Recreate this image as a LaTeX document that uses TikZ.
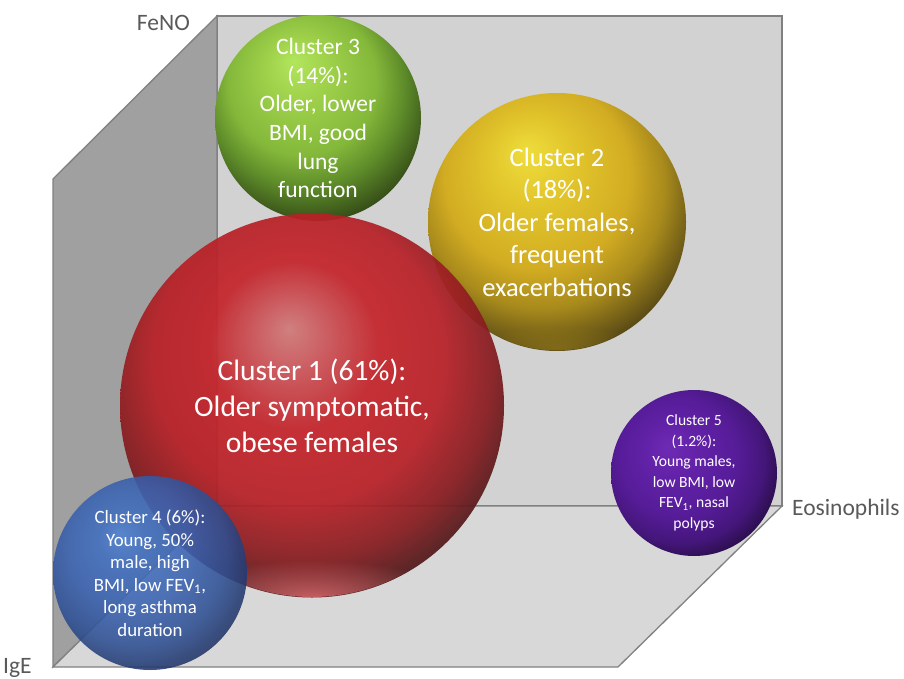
\documentclass[tikz,border=0pt]{standalone}
\usepackage{fontspec}
\setmainfont{Carlito}
\usetikzlibrary{fadings}
\definecolor{wallback}{HTML}{D2D2D2}
\definecolor{wallleft}{HTML}{A0A0A0}
\definecolor{wallfloor}{HTML}{D8D8D8}
\definecolor{edgegray}{HTML}{808080}
\definecolor{axistext}{HTML}{595959}
% red
\definecolor{rA}{HTML}{D07A7A}\definecolor{rB}{HTML}{CC5A5E}\definecolor{rC}{HTML}{C4242A}
\definecolor{rD}{HTML}{B82127}\definecolor{rE}{HTML}{861C20}\definecolor{rF}{HTML}{441818}
\definecolor{rR}{HTML}{DA6A6E}
% green
\definecolor{gA}{HTML}{B2E65C}\definecolor{gB}{HTML}{9ED04A}\definecolor{gC}{HTML}{84B83A}
\definecolor{gD}{HTML}{5E8C2A}\definecolor{gE}{HTML}{2E4214}\definecolor{gF}{HTML}{1A2608}
% yellow
\definecolor{yA}{HTML}{EEDD3C}\definecolor{yB}{HTML}{E2C62C}\definecolor{yC}{HTML}{D2AC22}
\definecolor{yD}{HTML}{A88A1C}\definecolor{yE}{HTML}{4A3E14}\definecolor{yF}{HTML}{2A2410}
% blue
\definecolor{bA}{HTML}{4F82D4}\definecolor{bB}{HTML}{4270C0}\definecolor{bC}{HTML}{3A62B0}
\definecolor{bD}{HTML}{2E4F92}\definecolor{bE}{HTML}{1E3060}\definecolor{bF}{HTML}{141E40}
% purple
\definecolor{pA}{HTML}{6E2AB4}\definecolor{pB}{HTML}{6222A8}\definecolor{pC}{HTML}{561C98}
\definecolor{pD}{HTML}{44167A}\definecolor{pE}{HTML}{240C40}\definecolor{pF}{HTML}{140620}
\pgfdeclareradialshading{redball}{\pgfpoint{-3bp}{10bp}}{color(0bp)=(rA); color(4bp)=(rB); color(11bp)=(rC); color(19bp)=(rD); color(25bp)=(rE); color(30bp)=(rF); color(50bp)=(rF)}
\pgfdeclareradialshading{greenball}{\pgfpoint{-6bp}{14bp}}{color(0bp)=(gA); color(8bp)=(gB); color(18bp)=(gC); color(24bp)=(gD); color(32bp)=(gE); color(40bp)=(gF); color(50bp)=(gF)}
\pgfdeclareradialshading{yellowball}{\pgfpoint{-6bp}{14bp}}{color(0bp)=(yA); color(8bp)=(yB); color(18bp)=(yC); color(24bp)=(yD); color(32bp)=(yE); color(40bp)=(yF); color(50bp)=(yF)}
\pgfdeclareradialshading{blueball}{\pgfpoint{-8bp}{10bp}}{color(0bp)=(bA); color(6bp)=(bB); color(16bp)=(bC); color(24bp)=(bD); color(31bp)=(bE); color(38bp)=(bF); color(50bp)=(bF)}
\pgfdeclareradialshading{purpleball}{\pgfpoint{-8bp}{8bp}}{color(0bp)=(pA); color(8bp)=(pB); color(18bp)=(pC); color(25bp)=(pD); color(31bp)=(pE); color(37bp)=(pF); color(50bp)=(pF)}
\tikzfading[name=softspot, inner color=transparent!0, outer color=transparent!100]
\tikzset{
  wall/.style={draw=edgegray, line width=1.3pt, line join=miter},
  sphere/.style={circle, inner sep=0pt, shade, text=white, align=center, text opacity=1},
  axislabel/.style={text=axistext, font=\fontsize{23.5}{28}\selectfont, inner sep=0pt},
  glow/.style={path fading=softspot}
}
\begin{document}
\begin{tikzpicture}[x=1pt,y=-1pt]
\useasboundingbox (0,0) rectangle (904,679);
% walls
\fill[wallback] (217,16) rectangle (782,506);
\draw[wall] (217,16) rectangle (782,506);
\filldraw[wall, fill=wallleft] (217,16) -- (53,179) -- (53,667) -- (217,506) -- cycle;
\filldraw[wall, fill=wallfloor] (53,667) -- (618,667) -- (782,506) -- (217,506) -- cycle;
% axis labels
\node[axislabel, anchor=base east] (feno) at (190,31) {FeNO};
\node[axislabel, anchor=base west] (eos) at (792,515) {Eosinophils};
\node[axislabel, anchor=base west] (ige) at (3,673) {IgE};
% spheres
\node[sphere, shading=greenball, minimum size=206pt, font=\fontsize{23.5}{28.7}\selectfont] (c3) at (318,118)
  {Cluster 3\\(14\%):\\Older, lower\\BMI, good\\lung\\function};
\node[sphere, shading=yellowball, minimum size=258pt, font=\fontsize{26.5}{32.5}\selectfont] (c2) at (557,222)
  {Cluster 2\\(18\%):\\Older females,\\frequent\\exacerbations};
\begin{scope}
  \clip (c2.center) circle (128.5);
  \fill[glow, color=yD, fill opacity=0.45] (557,348) ellipse (90 and 22);
\end{scope}
\node[sphere, shading=redball, fill opacity=0.93, minimum size=384pt] (c1) at (312,405.5) {};
\begin{scope}
  \clip (c1.center) circle (191.5);
  \fill[glow, color=rR, fill opacity=0.85] (312,598) ellipse (140 and 38);
\end{scope}
\node[text=white, align=center, inner sep=0pt, font=\fontsize{29.5}{36}\selectfont] (t1) at (c1.center)
  {Cluster 1 (61\%):\\Older symptomatic,\\obese females};
\node[sphere, shading=purpleball, minimum size=166pt, font=\fontsize{15.6}{20.5}\selectfont] (c5) at (694,473)
  {Cluster 5\\(1.2\%):\\Young males,\\low BMI, low\\FEV\textsubscript{1}, nasal\\polyps};
\node[sphere, shading=blueball, fill opacity=0.88, minimum size=194pt, font=\fontsize{18.8}{22.5}\selectfont] (c4) at (150,573)
  {Cluster 4 (6\%):\\Young, 50\%\\male, high\\BMI, low FEV\textsubscript{1},\\long asthma\\duration};
\end{tikzpicture}
\end{document}
